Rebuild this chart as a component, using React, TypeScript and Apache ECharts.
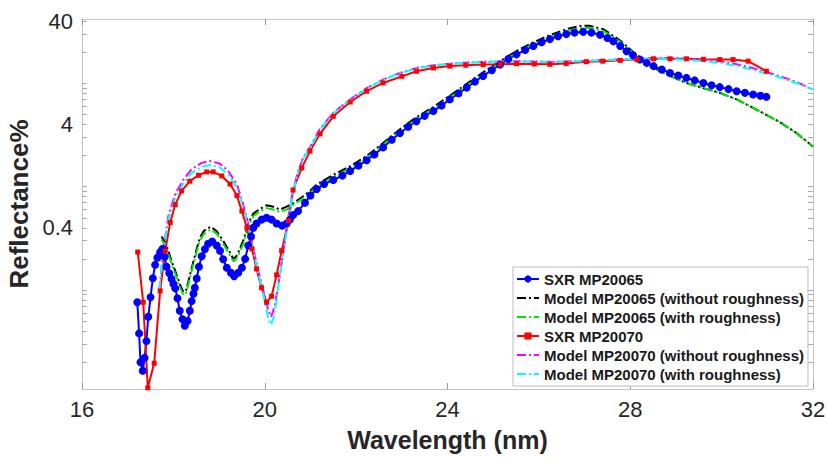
import React, { useEffect, useRef } from "react";
import * as echarts from "echarts";

// ---------- Data (wavelength nm, reflectance %) ----------
const sxr65Wl = [17.21, 17.25, 17.28, 17.33, 17.37, 17.41, 17.45, 17.5, 17.55, 17.6, 17.65, 17.71, 17.76, 17.81, 17.85, 17.91, 17.96, 18.0, 18.04, 18.09, 18.14, 18.2, 18.25, 18.31, 18.36, 18.4, 18.44, 18.47, 18.51, 18.56, 18.62, 18.69, 18.76, 18.85, 18.95, 19.02, 19.09, 19.17, 19.26, 19.33, 19.42, 19.5, 19.57, 19.64, 19.7, 19.75, 19.82, 19.93, 20.04, 20.15, 20.26, 20.38, 20.48, 20.55, 20.62, 20.73, 20.88, 21.0, 21.14, 21.3, 21.5, 21.7, 21.87, 22.05, 22.23, 22.4, 22.59, 22.78, 22.96, 23.14, 23.32, 23.5, 23.69, 23.87, 24.05, 24.24, 24.42, 24.6, 24.78, 24.97, 25.15, 25.33, 25.51, 25.7, 25.88, 26.06, 26.24, 26.42, 26.6, 26.78, 26.97, 27.15, 27.34, 27.5, 27.63, 27.78, 27.92, 28.06, 28.21, 28.36, 28.51, 28.69, 28.87, 29.05, 29.23, 29.41, 29.6, 29.78, 29.96, 30.15, 30.33, 30.51, 30.69, 30.85, 30.98];
const sxr65R = [0.076, 0.038, 0.02, 0.0165, 0.022, 0.032, 0.055, 0.085, 0.13, 0.175, 0.205, 0.232, 0.25, 0.21, 0.168, 0.145, 0.128, 0.115, 0.104, 0.083, 0.063, 0.052, 0.045, 0.05, 0.063, 0.078, 0.092, 0.105, 0.129, 0.168, 0.212, 0.248, 0.28, 0.295, 0.27, 0.24, 0.198, 0.164, 0.147, 0.136, 0.147, 0.164, 0.2, 0.27, 0.33, 0.4, 0.44, 0.48, 0.5, 0.48, 0.44, 0.42, 0.44, 0.48, 0.53, 0.58, 0.7, 0.82, 0.95, 1.06, 1.16, 1.28, 1.42, 1.6, 1.8, 2.05, 2.4, 2.85, 3.3, 3.8, 4.3, 4.85, 5.4, 6.1, 7.0, 8.0, 9.1, 10.4, 11.8, 13.4, 15.2, 17.2, 19.1, 21.0, 23.0, 25.0, 26.8, 28.6, 30.0, 31.0, 31.5, 31.0, 29.6, 27.5, 25.6, 23.0, 20.5, 18.7, 17.0, 15.8, 14.7, 13.6, 12.6, 11.9, 11.3, 10.7, 10.1, 9.6, 9.2, 8.8, 8.4, 8.1, 7.8, 7.6, 7.4];

const model65Wl = [17.74, 17.82, 17.89, 17.96, 18.04, 18.14, 18.22, 18.28, 18.33, 18.44, 18.51, 18.58, 18.66, 18.73, 18.82, 18.95, 19.09, 19.17, 19.24, 19.31, 19.37, 19.42, 19.53, 19.64, 19.75, 19.9, 20.04, 20.19, 20.33, 20.48, 20.62, 20.81, 21.0, 21.14, 21.5, 21.87, 22.23, 22.59, 22.96, 23.32, 23.69, 24.05, 24.42, 24.78, 25.15, 25.51, 25.88, 26.24, 26.6, 26.9, 27.1, 27.41, 27.78, 28.07, 28.51, 28.87, 29.23, 29.6, 29.96, 30.33, 30.69, 31.0, 31.28, 31.64, 32.0];
const model65NoRough = [0.33, 0.29, 0.24, 0.19, 0.153, 0.114, 0.095, 0.1, 0.122, 0.19, 0.25, 0.32, 0.37, 0.39, 0.41, 0.37, 0.3, 0.26, 0.23, 0.2, 0.21, 0.23, 0.3, 0.44, 0.55, 0.61, 0.66, 0.64, 0.6, 0.64, 0.69, 0.79, 0.92, 1.05, 1.3, 1.58, 1.98, 2.65, 3.6, 4.7, 5.9, 7.6, 9.9, 12.8, 16.4, 20.6, 25.0, 29.3, 33.5, 36.0, 36.2, 33.5, 26.0, 20.0, 14.2, 11.8, 10.1, 9.0, 8.1, 7.0, 5.8, 4.9, 4.2, 3.3, 2.45];
const model65Rough = [0.31, 0.27, 0.225, 0.18, 0.144, 0.107, 0.089, 0.094, 0.115, 0.178, 0.235, 0.3, 0.345, 0.365, 0.385, 0.35, 0.28, 0.245, 0.215, 0.19, 0.198, 0.215, 0.28, 0.41, 0.52, 0.58, 0.62, 0.6, 0.57, 0.6, 0.66, 0.76, 0.88, 1.0, 1.24, 1.5, 1.9, 2.55, 3.45, 4.5, 5.7, 7.3, 9.5, 12.3, 15.8, 19.8, 24.0, 28.1, 32.0, 34.3, 34.5, 32.2, 25.3, 19.6, 14.0, 11.8, 10.1, 9.0, 8.1, 7.0, 5.8, 4.9, 4.2, 3.3, 2.45];

const sxr70Wl = [17.22, 17.34, 17.44, 17.58, 17.71, 17.82, 17.93, 18.04, 18.18, 18.36, 18.55, 18.73, 18.87, 19.06, 19.24, 19.39, 19.5, 19.61, 19.72, 19.82, 19.93, 20.04, 20.15, 20.26, 20.37, 20.52, 20.62, 20.81, 20.99, 21.21, 21.5, 21.87, 22.23, 22.59, 23.0, 23.32, 23.69, 24.05, 24.4, 24.78, 25.15, 25.51, 25.9, 26.24, 26.6, 27.04, 27.4, 27.78, 28.15, 28.51, 28.87, 29.23, 29.6, 29.96, 30.25, 30.58, 30.98];
const sxr70R = [0.233, 0.076, 0.0113, 0.0195, 0.098, 0.238, 0.45, 0.67, 0.91, 1.13, 1.29, 1.39, 1.39, 1.27, 1.06, 0.82, 0.58, 0.4, 0.25, 0.16, 0.105, 0.076, 0.087, 0.14, 0.24, 0.47, 0.93, 1.52, 2.21, 3.25, 4.8, 6.6, 8.4, 10.1, 11.7, 13.1, 14.1, 14.7, 15.0, 15.2, 15.3, 15.5, 15.4, 15.3, 15.6, 16.2, 16.4, 16.7, 17.0, 17.3, 17.3, 17.3, 17.1, 17.0, 17.0, 16.4, 13.1];

const model70Wl = [17.69, 17.78, 17.89, 18.04, 18.22, 18.4, 18.62, 18.8, 19.02, 19.2, 19.39, 19.53, 19.64, 19.75, 19.86, 19.97, 20.08, 20.14, 20.22, 20.3, 20.41, 20.52, 20.62, 20.73, 20.85, 20.99, 21.2, 21.5, 21.87, 22.23, 22.59, 22.96, 23.32, 23.69, 24.05, 24.42, 24.78, 25.15, 25.51, 25.88, 26.24, 26.6, 26.97, 27.34, 27.78, 28.15, 28.51, 28.87, 29.23, 29.6, 29.96, 30.33, 30.69, 31.0, 31.28, 31.64, 32.0];
const model70NoRough = [0.098, 0.24, 0.52, 0.85, 1.17, 1.48, 1.7, 1.77, 1.67, 1.42, 1.06, 0.67, 0.44, 0.25, 0.153, 0.098, 0.063, 0.055, 0.07, 0.115, 0.24, 0.52, 0.91, 1.42, 1.95, 2.4, 3.6, 5.2, 7.0, 9.0, 10.9, 12.6, 14.1, 15.0, 15.5, 15.9, 16.2, 16.3, 16.4, 16.3, 16.2, 16.3, 16.5, 16.8, 17.1, 17.4, 17.6, 17.6, 17.4, 17.0, 16.4, 15.3, 14.0, 12.8, 11.7, 10.3, 8.7];
const model70Rough = [0.1, 0.23, 0.48, 0.78, 1.08, 1.36, 1.56, 1.62, 1.53, 1.31, 0.98, 0.63, 0.42, 0.24, 0.145, 0.09, 0.052, 0.046, 0.06, 0.11, 0.23, 0.5, 0.88, 1.38, 1.9, 2.35, 3.5, 5.1, 6.9, 8.9, 10.8, 12.5, 14.0, 14.9, 15.4, 15.8, 16.1, 16.2, 16.3, 16.2, 16.1, 16.2, 16.4, 16.7, 17.0, 17.2, 17.3, 17.2, 16.9, 16.4, 15.8, 14.8, 13.5, 12.4, 11.4, 10.1, 8.7];

const xTicks = [16, 20, 24, 28, 32];
const yLabelValues = [0.4, 4, 40];
const yTickValues = [0.02, 0.03, 0.04, 0.05, 0.06, 0.07, 0.08, 0.09, 0.1, 0.2, 0.3, 0.4, 0.5, 0.6, 0.7, 0.8, 0.9, 1, 2, 3, 4, 5, 6, 7, 8, 9, 10, 20, 30, 40];

const seriesNames = [
  "SXR MP20065",
  "Model MP20065 (without roughness)",
  "Model MP20065 (with roughness)",
  "SXR MP20070",
  "Model MP20070 (without roughness)",
  "Model MP20070 (with roughness)",
];

const zip = (xs: number[], ys: number[]) => xs.map((x, i) => [x, ys[i]]);

export default function App() {
  const ref = useRef<HTMLDivElement>(null);
  useEffect(() => {
    if (!ref.current) return;
    const chart = echarts.init(ref.current, undefined, { renderer: "svg" });
    const font = "'Liberation Sans', Arial, sans-serif";
    const axisGray = "#c4c4c4";
    const dashDot = [9, 3, 2, 3];
    const lineSeries = (name: string, data: number[][], color: string, extra: any = {}) => ({
      name,
      type: "line",
      data,
      color,
      showSymbol: extra.symbol ? true : false,
      symbol: extra.symbol || "none",
      symbolSize: extra.symbolSize || 0,
      lineStyle: { color, width: 2, type: extra.dash || "solid" },
      itemStyle: { color },
      xAxisIndex: 0,
      yAxisIndex: 0,
    });
    const legendData = seriesNames.map((name, i) =>
      i === 0 || i === 3
        ? { name }
        : { name, itemStyle: { opacity: 0 } }
    );
    chart.setOption({
      animation: false,
      backgroundColor: "#ffffff",
      textStyle: { fontFamily: font },
      grid: { left: 82, right: 15, top: 19, bottom: 75, containLabel: false, outerBoundsMode: "none" },
      xAxis: [
        {
          type: "value",
          min: 16,
          max: 32,
          interval: 4,
          position: "bottom",
          name: "Wavelength (nm)",
          nameLocation: "middle",
          nameGap: 38,
          nameTextStyle: { fontSize: 25, fontWeight: "bold", color: "#262626", fontFamily: font },
          axisLine: { show: true, lineStyle: { color: axisGray, width: 1 } },
          axisTick: { show: true, inside: true, length: 6, lineStyle: { color: "#999" }, customValues: xTicks },
          axisLabel: { fontSize: 22, color: "#262626", margin: 9, fontFamily: font, customValues: xTicks },
          splitLine: { show: false },
        },
        {
          type: "value",
          min: 16,
          max: 32,
          interval: 4,
          position: "top",
          axisLine: { show: true, lineStyle: { color: axisGray, width: 1 } },
          axisTick: { show: true, inside: true, length: 6, lineStyle: { color: "#999" } },
          axisLabel: { show: false },
          splitLine: { show: false },
        },
      ],
      yAxis: [
        {
          type: "log",
          logBase: 10,
          min: 0.011,
          max: 42,
          position: "left",
          name: "Reflectance%",
          nameLocation: "middle",
          nameGap: 44,
          nameRotate: 90,
          nameTextStyle: { fontSize: 26, fontWeight: "bold", color: "#262626", fontFamily: font },
          axisLine: { show: true, lineStyle: { color: axisGray, width: 1 } },
          axisTick: { show: true, inside: true, length: 5, lineStyle: { color: "#aaa" }, customValues: yTickValues },
          axisLabel: {
            fontSize: 22,
            color: "#262626",
            margin: 9,
            fontFamily: font,
            customValues: yLabelValues,
            formatter: (v: number) => String(+Number(v).toPrecision(2)),
          },
          splitLine: { show: false },
        },
        {
          type: "log",
          logBase: 10,
          min: 0.011,
          max: 42,
          position: "right",
          axisLine: { show: true, lineStyle: { color: axisGray, width: 1 } },
          axisTick: { show: true, inside: true, length: 5, lineStyle: { color: "#aaa" }, customValues: yTickValues },
          axisLabel: { show: false },
          splitLine: { show: false },
        },
      ],
      legend: {
        orient: "vertical",
        right: 20,
        top: 267,
        padding: [4, 4, 4, 3],
        itemGap: 3,
        itemWidth: 22,
        itemHeight: 9,
        backgroundColor: "#ffffff",
        borderColor: "#bdbdbd",
        borderWidth: 1,
        borderRadius: 0,
        textStyle: { fontSize: 15, fontWeight: "bold", color: "#1a1a1a", fontFamily: font, lineHeight: 16 },
        data: legendData,
      },
      series: [
        lineSeries(seriesNames[0], zip(sxr65Wl, sxr65R), "#0000ff", { symbol: "circle", symbolSize: 8 }),
        lineSeries(seriesNames[1], zip(model65Wl, model65NoRough), "#000000", { dash: dashDot }),
        lineSeries(seriesNames[2], zip(model65Wl, model65Rough), "#00e600", { dash: dashDot }),
        lineSeries(seriesNames[3], zip(sxr70Wl, sxr70R), "#ff0000", { symbol: "rect", symbolSize: 5 }),
        lineSeries(seriesNames[4], zip(model70Wl, model70NoRough), "#ff00ff", { dash: dashDot }),
        lineSeries(seriesNames[5], zip(model70Wl, model70Rough), "#00ffff", { dash: dashDot }),
      ],
    });
    return () => chart.dispose();
  }, []);
  return (
    <div
      ref={ref}
      style={{ position: "absolute", left: 0, top: 0, width: 828, height: 464, background: "#fff" }}
    />
  );
}
